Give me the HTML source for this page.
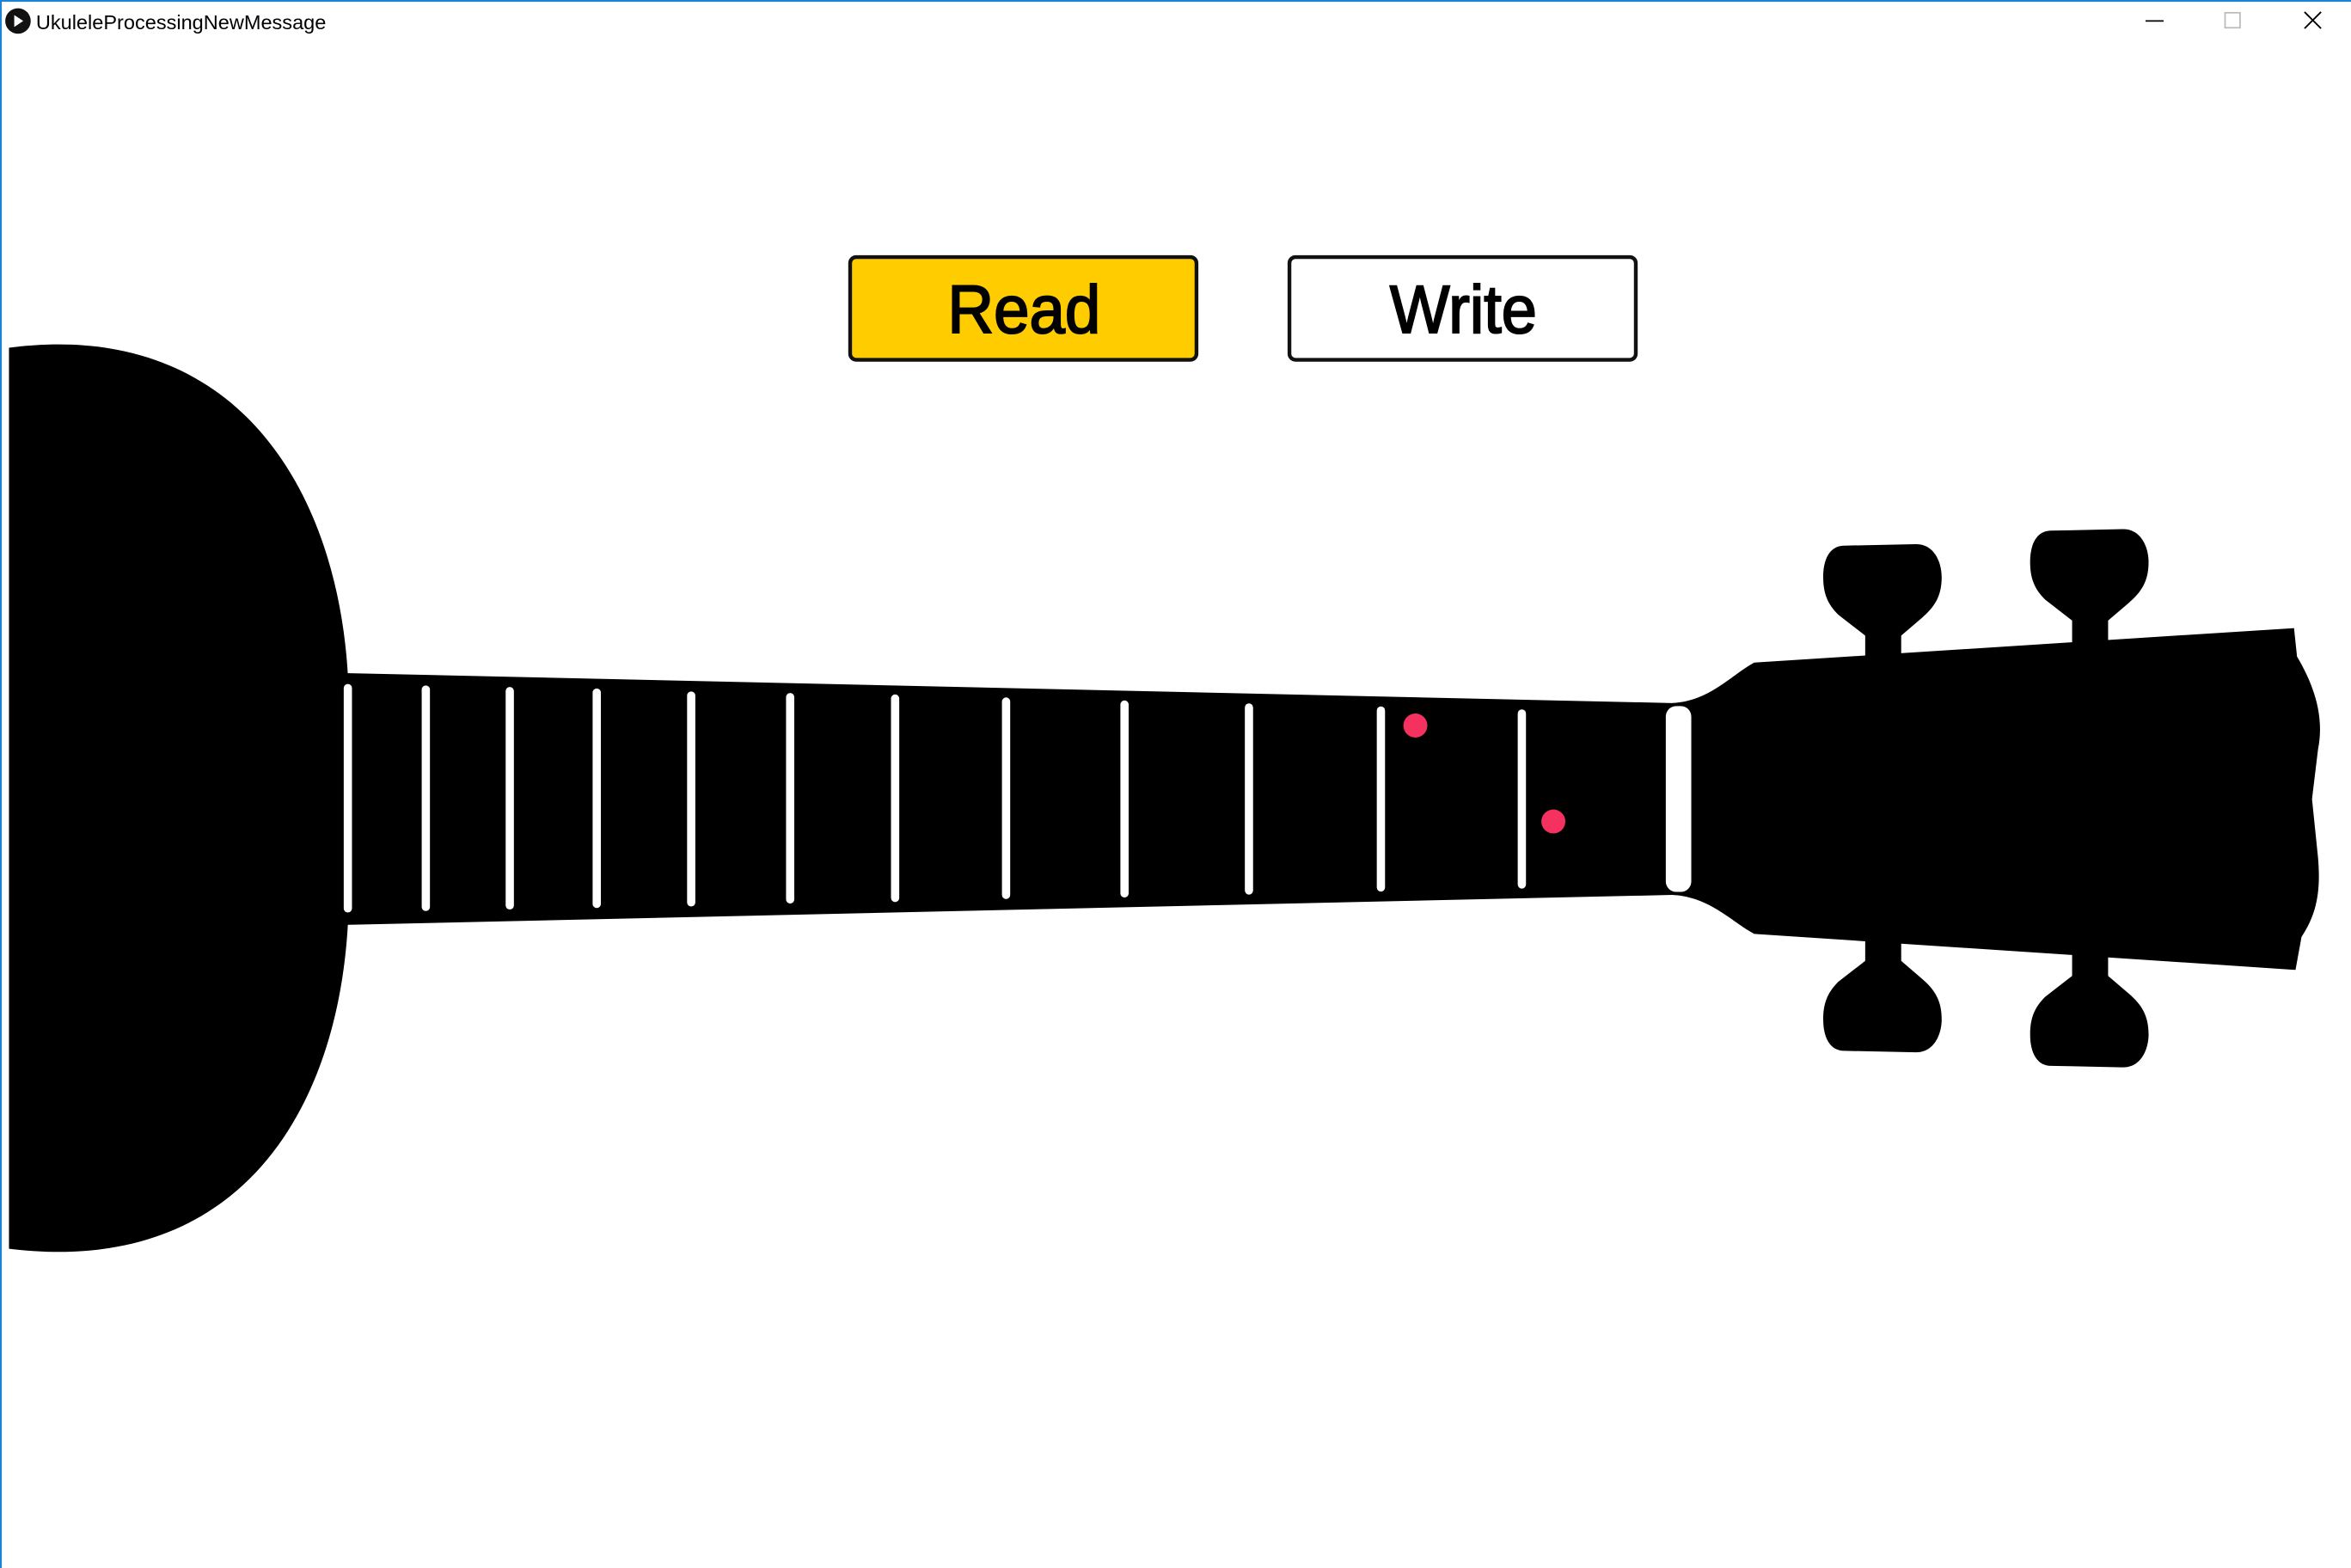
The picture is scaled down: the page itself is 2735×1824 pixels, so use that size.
<!DOCTYPE html>
<html><head><meta charset="utf-8"><style>
html,body{margin:0;padding:0;background:#fff;overflow:hidden}
svg{display:block}
</style></head><body>
<svg width="2735" height="1824" viewBox="0 0 1568 1046" preserveAspectRatio="none" xmlns="http://www.w3.org/2000/svg">
<defs>
<path id="k1" d="M1230,364 L1278,363 C1290,363 1295,375 1295,385 C1295,398 1290,405 1282,412 L1268,424 L1244,424 L1226,410 C1219,403 1216,396 1216,385 C1216,372 1221,364 1230,364Z"/>
<path id="k2" d="M1368,354 L1416,353 C1428,353 1433,365 1433,375 C1433,388 1428,395 1420,402 L1406,414 L1382,414 L1364,400 C1357,393 1354,386 1354,375 C1354,362 1359,354 1368,354Z"/>
</defs>
<rect x="0" y="0" width="1568" height="1046" fill="#fff"/>
<rect x="0" y="0" width="1568" height="1.2" fill="#1883d7"/>
<rect x="0" y="0" width="1.2" height="1046" fill="#1883d7"/>
<circle cx="12" cy="14" r="8.5" fill="#111"/>
<path d="M9.5,10 L15.5,14 L9.5,18 Z" fill="#fff"/>
<text x="24" y="19.5" font-family="Liberation Sans, sans-serif" font-size="13.5" fill="#000">UkuleleProcessingNewMessage</text>
<line x1="1431" y1="14" x2="1443" y2="14" stroke="#000" stroke-width="1"/>
<rect x="1484" y="8.5" width="10" height="10" fill="none" stroke="#bbb" stroke-width="1"/>
<path d="M1537,8 L1548,19 M1548,8 L1537,19" stroke="#000" stroke-width="1.1"/>
<rect x="567" y="171.5" width="231" height="68.5" rx="4" fill="#ffcc00" stroke="#111" stroke-width="2.5"/>
<rect x="860" y="171.5" width="231" height="68.5" rx="4" fill="#fff" stroke="#111" stroke-width="2.5"/>
<text x="683" y="222" text-anchor="middle" font-family="Liberation Sans, sans-serif" font-size="45" fill="#000" stroke="#000" stroke-width="1.2" textLength="102" lengthAdjust="spacingAndGlyphs">Read</text>
<text x="976" y="222" text-anchor="middle" font-family="Liberation Sans, sans-serif" font-size="45" fill="#000" stroke="#000" stroke-width="1.2" textLength="98" lengthAdjust="spacingAndGlyphs">Write</text>
<path d="M6,232 C160,212 225,330 232,450 L232,617 C225,740 160,852 6,833 Z" fill="#000"/>
<path d="M230,449 L1115,469 C1140,468 1155,450 1170,442 L1530,419 L1532,438 C1545,460 1550,480 1546,500 L1542,533 L1546,572 C1548,595 1545,610 1535,625 L1531,647 L1170,623 C1155,615 1140,598 1115,597 L230,617 Z" fill="#000"/>
<g fill="#000">
<rect x="1244" y="418" width="24" height="20"/>
<use href="#k1"/>
<rect x="1382" y="408" width="24" height="22"/>
<use href="#k2"/>
</g>
<g transform="translate(0,1065) scale(1,-1)" fill="#000">
<rect x="1244" y="418" width="24" height="20"/>
<use href="#k1"/>
<rect x="1382" y="408" width="24" height="22"/>
<use href="#k2"/>
</g>
<g stroke="#fff" stroke-width="5.5" stroke-linecap="round">
<line x1="232" y1="459" x2="232" y2="606"/>
<line x1="284" y1="460" x2="284" y2="605"/>
<line x1="340" y1="461" x2="340" y2="604"/>
<line x1="398" y1="462" x2="398" y2="603"/>
<line x1="461" y1="464" x2="461" y2="602"/>
<line x1="527" y1="465" x2="527" y2="600"/>
<line x1="597" y1="466" x2="597" y2="599"/>
<line x1="671" y1="468" x2="671" y2="597"/>
<line x1="750" y1="470" x2="750" y2="596"/>
<line x1="833" y1="472" x2="833" y2="594"/>
<line x1="921" y1="474" x2="921" y2="592"/>
<line x1="1015" y1="476" x2="1015" y2="590"/>
</g>
<rect x="1111" y="471" width="17" height="124" rx="7" fill="#fff"/>
<circle cx="944" cy="484" r="8" fill="#f5325f"/>
<circle cx="1036" cy="548" r="8" fill="#f5325f"/>
</svg>
</body></html>
